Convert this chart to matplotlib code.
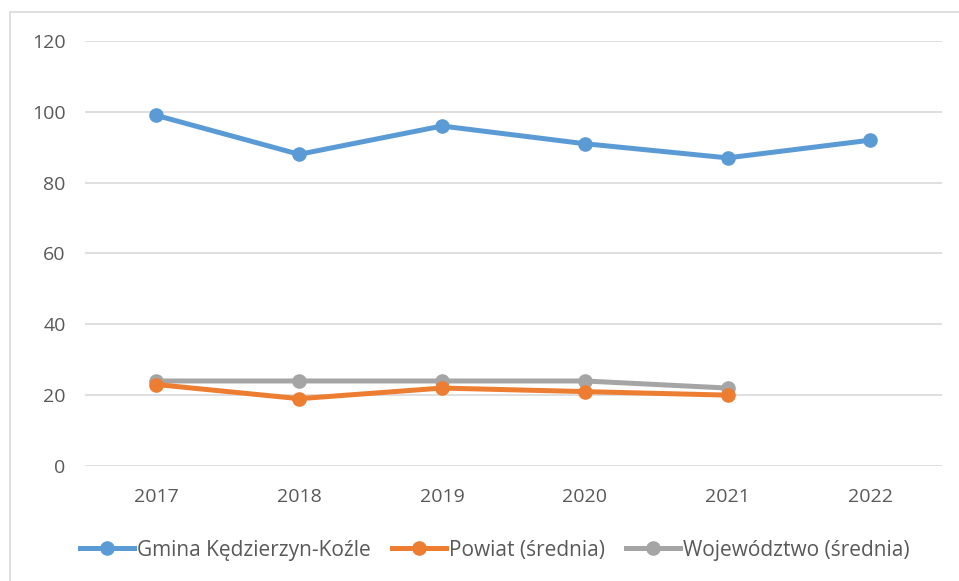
import matplotlib.pyplot as plt
from matplotlib.patches import Rectangle

years = ["2017", "2018", "2019", "2020", "2021", "2022"]
gmina = [99, 88, 96, 91, 87, 92]
powiat = [23, 19, 22, 21, 20]
wojewodztwo = [24, 24, 24, 24, 22]

plt.rcParams['font.family'] = ['Open Sans', 'DejaVu Sans']

fig = plt.figure(figsize=(9.59, 5.81), dpi=100)
ax = fig.add_axes([0.0886, 0.198, 0.8934, 0.7314])

x = list(range(len(years)))
ax.plot(x, gmina, color="#5B9BD5", lw=3.6, marker="o", ms=9.5, label="Gmina Kędzierzyn-Koźle")
ax.plot(x[:len(powiat)], powiat, color="#ED7D31", lw=3.6, marker="o", ms=9.5, label="Powiat (średnia)")
ax.plot(x[:len(wojewodztwo)], wojewodztwo, color="#A5A5A5", lw=3.6, marker="o", ms=9.5,
        label="Województwo (średnia)", zorder=1.5)

ax.set_xlim(-0.5, len(years) - 0.5)
ax.set_ylim(0, 120)
ax.set_yticks(range(0, 121, 20))
ax.set_xticks(x)
ax.set_xticklabels(years)
ax.grid(axis="y", color="#D9D9D9", lw=1.2)
ax.set_axisbelow(True)
for s in ax.spines.values():
    s.set_visible(False)
ax.tick_params(length=0, labelsize=14, colors="#595959")
ax.tick_params(axis="y", pad=14)
ax.tick_params(axis="x", pad=16)

# light frame around the chart (open at right and bottom like the cropped original)
fig.patches.append(Rectangle((10 / 959, -0.05), 1.05, 1 - 12 / 581 + 0.05,
                             transform=fig.transFigure, fill=False, ec="#D9D9D9", lw=1.2))

fig.legend(loc="center", bbox_to_anchor=(0.516, 0.053), ncol=3, frameon=False,
           fontsize=15, labelcolor="#595959", handlelength=2.6, columnspacing=1.0,
           handletextpad=0.15)

fig.savefig("out.png", dpi=100)
